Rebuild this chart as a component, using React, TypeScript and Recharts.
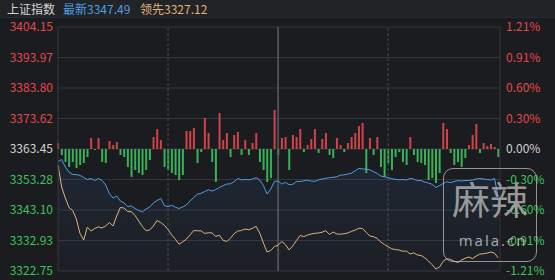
import React from 'react';
import { ComposedChart, Line, Area, Bar, Cell, XAxis, YAxis, CartesianGrid, ReferenceLine } from 'recharts';

const priceTicks = [3404.15, 3393.97, 3383.8, 3373.62, 3363.45, 3353.28, 3343.1, 3332.93, 3322.75];
const pctLabels = ['1.21%', '0.91%', '0.60%', '0.30%', '0.00%', '-0.30%', '-0.60%', '-0.91%', '-1.21%'];
const prevClose = 3363.45;
const minuteStep = 2;
const sessionMarks = [60, 120, 180];

const latest = [
  3359.28, 3359.95, 3357.45, 3355.78, 3354.94, 3354.94, 3354.61, 3353.94, 3353.27, 3353.61,
  3352.94, 3353.61, 3352.94, 3351.44, 3348.6, 3347.1, 3347.77, 3346.1, 3345.44, 3344.27,
  3344.43, 3343.6, 3342.93, 3342.43, 3343.43, 3344.1, 3345.44, 3346.27, 3346.94, 3344.6,
  3344.2, 3344.7, 3344.03, 3343.6, 3344.1, 3344.77, 3346.1, 3347.27, 3348.37, 3348.67,
  3349.27, 3349.84, 3349.44, 3349.91, 3350.61, 3351.21, 3351.77, 3351.84, 3352.51, 3353.64,
  3353.11, 3353.31, 3353.17, 3353.44, 3353.88, 3353.11, 3351.27, 3348.44, 3350.11, 3352.61,
  3352.77, 3351.77, 3352.31, 3351.57, 3351.67, 3352.67, 3352.61, 3352.87, 3353.07, 3352.74,
  3352.67, 3353.17, 3353.44, 3353.64, 3353.91, 3354.01, 3354.18, 3354.78, 3354.81, 3355.11,
  3355.38, 3356.18, 3356.94, 3356.84, 3356.68, 3356.51, 3355.91, 3355.31, 3354.44, 3354.18,
  3353.91, 3353.54, 3353.34, 3353.17, 3353.27, 3353.11, 3353.64, 3353.37, 3352.91, 3352.94,
  3352.44, 3352.11, 3351.67, 3350.61, 3351.27, 3351.97, 3352.54, 3352.24, 3352.61, 3352.94,
  3352.77, 3352.94, 3352.94, 3353.11, 3353.44, 3353.61, 3353.44, 3353.27, 3353.11, 3353.61,
  3347.49,
];

const leading = [
  3358.11, 3350.77, 3347.1, 3343.93, 3342.93, 3340.1, 3335.26, 3333.09, 3337.43, 3336.09,
  3336.93, 3337.49, 3337.1, 3337.76, 3338.93, 3337.76, 3341.1, 3343.93, 3343.77, 3342.6,
  3342.53, 3341.27, 3339.43, 3337.6, 3336.16, 3336.43, 3337.76, 3339.6, 3338.93, 3338.0,
  3336.59, 3334.76, 3333.36, 3331.66, 3332.49, 3333.39, 3334.76, 3336.26, 3336.16, 3336.16,
  3335.26, 3335.53, 3335.43, 3334.29, 3334.69, 3332.99, 3332.59, 3333.66, 3335.16, 3336.09,
  3336.29, 3336.76, 3336.49, 3336.96, 3337.66, 3335.36, 3332.09, 3329.09, 3329.59, 3330.92,
  3331.32, 3332.59, 3331.56, 3329.76, 3331.09, 3332.92, 3334.59, 3334.23, 3334.76, 3335.09,
  3335.33, 3335.43, 3335.69, 3336.19, 3334.93, 3335.76, 3335.09, 3335.03, 3335.19, 3335.43,
  3335.99, 3336.39, 3337.0, 3336.93, 3335.69, 3334.43, 3334.19, 3333.63, 3332.42, 3331.59,
  3330.82, 3330.16, 3329.86, 3329.76, 3329.32, 3329.42, 3328.42, 3328.79, 3328.09, 3327.92,
  3327.15, 3326.09, 3324.85, 3323.42, 3324.02, 3325.99, 3326.82, 3326.62, 3325.99, 3325.59,
  3326.39, 3326.99, 3327.42, 3326.89, 3327.72, 3328.39, 3328.52, 3328.72, 3329.09, 3328.72,
  3327.12,
];

const power = [
  6, -6, -13, -18, -13, -19, -16, -14, -8, 11,
  -1, 11, -13, -14, 8, 4, 7, -6, -8, -18,
  -28, -21, -24, -26, -21, -11, 12, 20, 9, -18,
  -21, -24, -26, -31, -26, 18, 18, 21, -14, -3,
  31, 16, -13, -33, 36, 9, 16, -8, 14, 17,
  -6, 9, -6, 6, 16, -13, -21, -33, -29, 39,
  -6, 11, 12, -21, 14, 12, 20, -3, 4, 10,
  20, -4, 10, 16, -6, -9, 11, 4, -3, 6,
  12, 16, 23, 26, -24, 11, -6, 12, -18, -28,
  -14, -21, -8, -3, -13, -16, 12, -6, -13, -14,
  -16, -31, -29, -34, -24, 26, 20, -4, -16, -13,
  -18, -9, 4, 14, 25, -4, 6, 3, 5, 2,
  -8,
];

const data = latest.map((v, i) => ({ t: i * minuteStep, latest: v, leading: leading[i], power: power[i] }));

const RED = '#e5484d';
const GREEN = '#3cc35e';
const GREY = '#d2d2d2';
const BLUE = '#4e9fe6';
const ORANGE = '#e3b27a';
const GRID = '#36373c';
const FONT = '"Noto Sans CJK SC", "Noto Sans", sans-serif';

const colorFor = (v: number) => (v > prevClose + 0.001 ? RED : v < prevClose - 0.001 ? GREEN : GREY);

const LeftTick = (props: any) => {
  const { x, y, payload } = props;
  const v = Number(payload.value);
  return (
    <text x={x} y={y} dy="0.355em" textAnchor="end" fill={colorFor(v)} fontSize={12} fontFamily={FONT}>
      {v.toFixed(2)}
    </text>
  );
};

const RightTick = (props: any) => {
  const { x, y, payload } = props;
  const v = Number(payload.value);
  let idx = 0;
  let best = Infinity;
  priceTicks.forEach((p, i) => {
    const d = Math.abs(p - v);
    if (d < best) {
      best = d;
      idx = i;
    }
  });
  return (
    <text x={x} y={y} dy="0.355em" textAnchor="start" fill={colorFor(v)} fontSize={12} fontFamily={FONT}>
      {pctLabels[idx]}
    </text>
  );
};

export default function App() {
  return (
    <div style={{ position: 'absolute', left: 0, top: 0, width: 555, height: 280, background: '#1b1c20', overflow: 'hidden', fontFamily: FONT }}>
      <div style={{ position: 'absolute', left: 0, top: 0, width: 555, height: 17, background: '#222327', borderBottom: '1px solid #2a2b30', fontSize: 12, lineHeight: '17px', whiteSpace: 'nowrap' }}>
        <span style={{ position: 'absolute', left: 7, color: '#d4d4d4' }}>上证指数</span>
        <span style={{ position: 'absolute', left: 63, color: BLUE }}>最新3347.49</span>
        <span style={{ position: 'absolute', left: 140, color: '#e0b27a' }}>领先3327.12</span>
      </div>
      <div style={{ position: 'absolute', left: 0, top: 0 }}>
        <ComposedChart width={555} height={280} data={data} margin={{ top: 27, right: 0, bottom: 9, left: 0 }}>
          <defs>
            <linearGradient id="blueFill" x1="0" y1="0" x2="0" y2="1">
              <stop offset="0%" stopColor="#3a78c0" stopOpacity={0.2} />
              <stop offset="100%" stopColor="#3a78c0" stopOpacity={0.05} />
            </linearGradient>
          </defs>
          <XAxis dataKey="t" type="number" domain={[0, 241]} hide />
          <YAxis
            domain={[3322.75, 3404.15]}
            ticks={priceTicks}
            allowDataOverflow
            width={58}
            tickSize={0}
            tickMargin={5}
            axisLine={{ stroke: GRID }}
            tickLine={false}
            tick={<LeftTick />}
            interval={0}
          />
          <YAxis
            yAxisId="r"
            orientation="right"
            domain={[3322.75, 3404.15]}
            ticks={priceTicks}
            allowDataOverflow
            width={55}
            tickSize={0}
            tickMargin={6}
            axisLine={{ stroke: GRID }}
            tickLine={false}
            tick={<RightTick />}
            interval={0}
          />
          <YAxis yAxisId="b" domain={[-122, 122]} hide allowDataOverflow />
          <CartesianGrid vertical={false} stroke={GRID} strokeWidth={1} />
          <ReferenceLine x={sessionMarks[0]} stroke="#4a4b50" strokeDasharray="3 2" />
          <ReferenceLine x={sessionMarks[1]} stroke="#5c5d62" strokeWidth={1.5} />
          <ReferenceLine x={sessionMarks[2]} stroke="#4a4b50" strokeDasharray="3 2" />
          <Area dataKey="latest" stroke="none" fill="url(#blueFill)" isAnimationActive={false} baseValue="dataMin" />
          <Bar dataKey="power" yAxisId="b" barSize={2} isAnimationActive={false}>
            {data.map((d, i) => (
              <Cell key={i} fill={d.power >= 0 ? RED : GREEN} fillOpacity={0.9} />
            ))}
          </Bar>
          <Line dataKey="latest" stroke={BLUE} strokeWidth={1} dot={false} isAnimationActive={false} />
          <Line dataKey="leading" stroke={ORANGE} strokeWidth={1} dot={false} isAnimationActive={false} />
        </ComposedChart>
      </div>
      <div style={{ position: 'absolute', left: 443, top: 168, width: 92, height: 92, border: '1.5px solid rgba(200,200,200,0.7)', borderRadius: 10, pointerEvents: 'none' }}>
        <div style={{ position: 'absolute', left: 4, top: 7, width: 84, textAlign: 'center', fontSize: 38, lineHeight: '44px', color: 'rgba(175,175,175,0.85)', fontWeight: 400 }}>麻辣</div>
        <div style={{ position: 'absolute', left: 4, top: 62, width: 90, textAlign: 'center', fontSize: 15, lineHeight: '18px', letterSpacing: 2, color: 'rgba(200,200,200,0.85)', fontFamily: '"Open Sans", sans-serif' }}>mala.cn</div>
      </div>
    </div>
  );
}
